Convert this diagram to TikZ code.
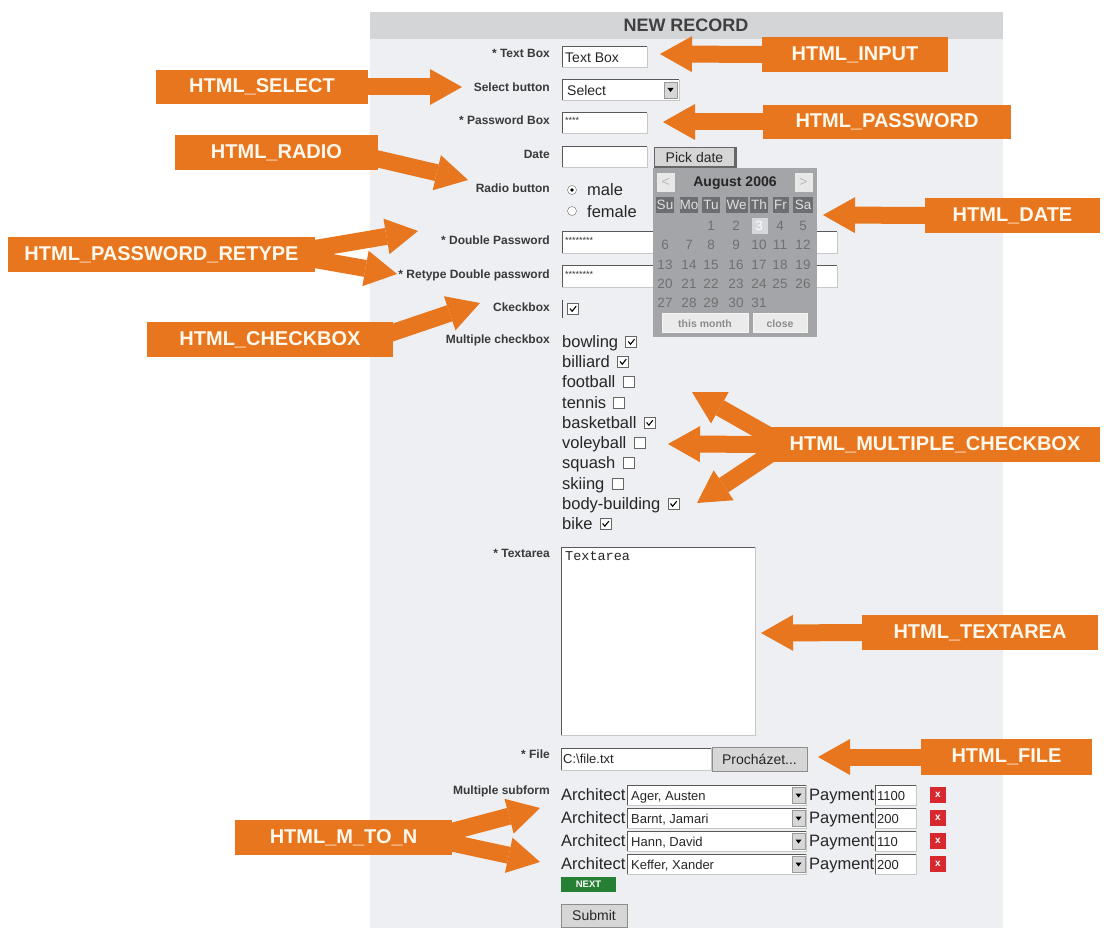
\documentclass[tikz,border=0pt]{standalone}
\usepackage{fontspec}
\setmainfont{Liberation Sans}
\newfontfamily\monofont{Liberation Mono}
\usetikzlibrary{arrows.meta,calc}
\definecolor{org}{RGB}{232,118,30}
\definecolor{panel}{RGB}{237,239,242}
\definecolor{hdr}{RGB}{212,213,215}
\definecolor{calbg}{RGB}{163,165,168}
\definecolor{caldk}{RGB}{108,110,113}
\definecolor{calnum}{RGB}{112,112,114}
\definecolor{calhi}{RGB}{214,216,219}
\definecolor{lbl}{RGB}{58,58,58}
\definecolor{btn}{RGB}{214,214,214}
\definecolor{xred}{RGB}{214,40,45}
\definecolor{nextg}{RGB}{38,128,52}
\definecolor{txtw}{RGB}{255,248,236}
\definecolor{fbd}{RGB}{95,95,95}
\newcommand\fld[4]{\fill[white] (#1,#2) rectangle (#3,#4);
  \draw[black!65,line width=1pt] (#1,#4)--(#1,#2)--(#3,#2);
  \draw[black!22,line width=0.8pt] (#3,#2)--(#3,#4)--(#1,#4);}
\tikzset{
 tag/.style={fill=org,text=txtw,font=\fontsize{20}{24}\selectfont\bfseries,inner sep=0pt,minimum height=35pt},
 arr/.style={draw=org,line width=17pt,-{Triangle[length=32pt,width=36pt,line width=0pt]}},
 flab/.style={anchor=east,inner sep=0pt,text=lbl,text height=8.6pt,text depth=0pt,font=\fontsize{12}{14}\selectfont\bfseries},
 big/.style={anchor=west,inner sep=0pt,text=black!85,text height=11.8pt,text depth=0pt,font=\fontsize{16.5}{18}\selectfont},
 mid/.style={anchor=west,inner sep=0pt,text=black!85,text height=10pt,text depth=0pt,font=\fontsize{14}{16}\selectfont},
 sm/.style={anchor=west,inner sep=0pt,text=black!85,text height=9.3pt,text depth=0pt,font=\fontsize{13}{15}\selectfont},
 tny/.style={anchor=west,inner sep=0pt,text=black!80,font=\fontsize{9}{10}\selectfont},
 cb/.style={draw=black!60,fill=white,line width=0.9pt,minimum size=11pt,inner sep=0pt,anchor=west},
 cbc/.style={cb,path picture={\draw[black,line width=1.1pt]
   ([xshift=-3pt,yshift=0.5pt]path picture bounding box.center) --
   ([xshift=-0.8pt,yshift=-2.2pt]path picture bounding box.center) --
   ([xshift=3.2pt,yshift=2.8pt]path picture bounding box.center);}},
 navb/.style={fill=white!75!calbg,text=white!45!gray,minimum width=18pt,minimum height=19pt,inner sep=0pt,font=\fontsize{14}{16}\selectfont},
 dayh/.style={fill=caldk,text=white!88!black,minimum height=16pt,inner sep=0pt,font=\fontsize{13.5}{15}\selectfont},
 dnum/.style={text=calnum,inner sep=0pt,font=\fontsize{13.5}{15}\selectfont},
 calbtn/.style={fill=white!78!calbg,draw=white!88!calbg,line width=1pt,text=black!45,minimum height=19pt,inner sep=0pt,font=\fontsize{10.5}{12}\selectfont\bfseries},
 btnn/.style={fill=btn,draw=black!45,line width=0.8pt,text=black!85,inner sep=0pt,font=\fontsize{14}{16}\selectfont},
 ddb/.style={fill=btn,draw=black!40,line width=0.6pt,minimum width=13pt,minimum height=16pt,inner sep=0pt},
 xb/.style={fill=xred,text=white,minimum width=16pt,minimum height=16pt,inner sep=0pt,font=\fontsize{10}{11}\selectfont\bfseries},
}
\begin{document}
\begin{tikzpicture}[x=1pt,y=-1pt]
\useasboundingbox (0,0) rectangle (1104,928);
% panel
\fill[panel] (370,12) rectangle (1003,928);
\fill[hdr] (370,12) rectangle (1003,39);
\node[font=\fontsize{18}{20}\selectfont\bfseries,text=black!75] (hd) at (686,25.5) {NEW RECORD};
% labels
\node[flab] (l1) at (550,53) {* Text Box};
\node[flab] (l2) at (550,87) {Select button};
\node[flab] (l3) at (550,120) {* Password Box};
\node[flab] (l4) at (550,154) {Date};
\node[flab] (l5) at (550,188) {Radio button};
\node[flab] (l6) at (550,240) {* Double Password};
\node[flab] (l7) at (550,274) {* Retype Double password};
\node[flab] (l8) at (550,307) {Ckeckbox};
\node[flab] (l9) at (550,339) {Multiple checkbox};
\node[flab] (l10) at (550,553) {* Textarea};
\node[flab] (l11) at (550,754) {* File};
\node[flab] (l12) at (550,790) {Multiple subform};
% text box
\fld{562}{47}{647}{67}
\node[mid] (v1) at (565,57.5) {Text Box};
% select
\fld{562}{80}{679}{100}
\node[mid] (v2) at (567,90.5) {Select};
\node[ddb] (v2b) at (670.5,90) {};
\fill[black] (667.5,88) -- (673.5,88) -- (670.5,92) -- cycle;
% password
\fld{562}{113}{647}{133}
\node[tny] (v3) at (565,120) {****};
% date
\fld{562}{147}{647}{167}
\fill[black!60] (654,147) rectangle (737,169);
\fill[btn] (655,148) rectangle (734,166);
\node[mid,anchor=center] (v4) at (694.5,157.5) {Pick date};
% radio
\draw[black!60,fill=white] (572,190) circle (4.5);
\fill[black] (572,190) circle (1.8);
\node[big] (v5) at (587,190) {male};
\draw[black!60,fill=white] (572,211) circle (4.5);
\node[big] (v6) at (587,212) {female};
% double passwords
\fld{562}{232}{837}{253}
\node[tny] (v6a) at (565,240) {********};
\fld{562}{266}{837}{287}
\node[tny] (v6b) at (565,274) {********};
% checkbox
\draw[black!70,line width=1.6pt] (562.5,300) -- (562.5,318);
\node[cbc] (v7) at (567,309) {};
% calendar
\fill[calbg] (653,168) rectangle (817,337);
\node[navb] (cprev) at (666,182.5) {<};
\node[font=\fontsize{14}{16}\selectfont\bfseries,text=black!85] (cmon) at (735,183) {August 2006};
\node[navb] (cnext) at (803.5,182.5) {>};
\foreach \n/\x/\w in {Su/665/18,Mo/689/18,Tu/711/18,We/736.5/22,Th/759/18,Fr/780.5/16,Sa/803/20}
  {\node[dayh,minimum width=\w pt] (h\n) at (\x,205) {\n};}
\fill[calhi] (752,218) rectangle (768,234);
\foreach \d in {1,...,31}{
  \pgfmathtruncatemacro{\idx}{\d+1}
  \pgfmathtruncatemacro{\col}{mod(\idx,7)}
  \pgfmathtruncatemacro{\row}{floor(\idx/7)}
  \pgfmathsetmacro{\cx}{{665,689,711,736,759,780,803}[\col]}
  \pgfmathsetmacro{\cy}{226+19.25*\row}
  \ifnum\d=3
    \node[dnum,text=white] (d\d) at (\cx,\cy) {\d};
  \else
    \node[dnum] (d\d) at (\cx,\cy) {\d};
  \fi
}
\node[calbtn,minimum width=86pt] (cb1) at (705,323.5) {this month};
\node[calbtn,minimum width=54pt] (cb2) at (780,323.5) {close};
% multiple checkbox
\foreach \t/\y/\c [count=\i] in {bowling/342/1,billiard/362/1,football/382/0,tennis/403/0,basketball/423/1,voleyball/443/0,squash/463/0,skiing/484/0,body-building/504/1,bike/524/1}{
  \node[big] (m\i) at (562,\y) {\t};
  \ifnum\c=1
    \node[cbc] (mc\i) at ([xshift=7pt]m\i.east) {};
  \else
    \node[cb] (mc\i) at ([xshift=7pt]m\i.east) {};
  \fi
}
% textarea
\fld{561}{547}{755}{735}
\node[anchor=north west,inner sep=0pt,text=black!85,font=\monofont\fontsize{13.5}{15}\selectfont] (v8) at (565,551) {Textarea};
% file
\fld{561}{748}{711}{770}
\node[sm] (v9) at (563,759) {C:\textbackslash file.txt};
\node[btnn,minimum width=95pt,minimum height=24pt] (v10) at (759.5,759) {Procházet...};
% subform
\foreach \i/\y/\n/\p in {1/795/{Ager, Austen}/1100,2/818/{Barnt, Jamari}/200,3/841/{Hann, David}/110,4/864/{Keffer, Xander}/200}{
  \node[big] (sa\i) at (561,\y) {Architect};
  \fld{627}{\y-10}{806}{\y+10}
  \node[sm] (sn\i) at (631,\y+0.5) {\n};
  \node[ddb] (sd\i) at (798.5,\y) {};
  \fill[black] ($(sd\i.center)+(-3,-1.5)$) -- ($(sd\i.center)+(3,-1.5)$) -- ($(sd\i.center)+(0,2.5)$) -- cycle;
  \node[big] (sp\i) at (809,\y) {Payment};
  \fld{875}{\y-10}{916}{\y+10}
  \node[sm] (sv\i) at (877,\y+0.5) {\p};
  \node[xb] (sx\i) at (938,\y) {x};
}
\node[fill=nextg,text=white,font=\bfseries\fontsize{9.5}{10}\selectfont,minimum width=55pt,minimum height=15pt,inner sep=0pt] (nx) at (588.5,884.5) {NEXT};
\node[btnn,minimum width=66pt,minimum height=23pt] (sb) at (594,915.5) {Submit};
% targets
\coordinate (pIn) at (660,54);
\coordinate (pPw) at (663,122);
\coordinate (pDate) at (823,215);
\coordinate (pSel) at (462,87);
\coordinate (pRad) at (468,180);
\coordinate (pRetA) at (418,231);
\coordinate (pRetB) at (397,274);
\coordinate (pChk) at (480,303);
\coordinate (pMA) at (692,392);
\coordinate (pMB) at (668,444);
\coordinate (pMC) at (697,503);
\coordinate (pTa) at (761,633);
\coordinate (pFile) at (818,757);
\coordinate (pMnA) at (540,808);
\coordinate (pMnB) at (540,862);
% tags
\node[tag,minimum width=186pt] (tIn) at (855,54.5) {HTML\_INPUT};
\node[tag,minimum width=248pt,minimum height=34pt] (tPw) at (887,122) {HTML\_PASSWORD};
\node[tag,minimum width=175pt] (tDate) at (1012.5,215.5) {HTML\_DATE};
\node[tag,minimum width=212pt,minimum height=34pt] (tSel) at (262,87) {HTML\_SELECT};
\node[tag,minimum width=203pt] (tRad) at (276.5,152.5) {HTML\_RADIO};
\node[tag,minimum width=307pt] (tRet) at (161.5,254.5) {HTML\_PASSWORD\_RETYPE};
\node[tag,minimum width=246pt] (tChk) at (270,339.5) {HTML\_CHECKBOX};
\node[tag,minimum width=330pt] (tMchk) at (935,444.5) {HTML\_MULTIPLE\_CHECKBOX};
\node[tag,minimum width=236pt] (tTa) at (980,632.5) {HTML\_TEXTAREA};
\node[tag,minimum width=171pt,minimum height=36pt] (tFile) at (1006.5,757) {HTML\_FILE};
\node[tag,minimum width=217pt] (tMn) at (343.5,837.5) {HTML\_M\_TO\_N};
% arrows
\draw[arr] ([xshift=15pt]tIn.west) -- (pIn);
\draw[arr] ([xshift=15pt]tPw.west) -- (pPw);
\draw[arr] ([xshift=15pt]tDate.west) -- (pDate);
\draw[arr] ([xshift=-15pt]tSel.east) -- (pSel);
\draw[arr] ([xshift=-15pt,yshift=-3pt]tRad.east) -- (pRad);
\draw[arr] ([xshift=-12pt,yshift=4pt]tRet.east) -- (pRetA);
\draw[arr] ([xshift=-12pt,yshift=-3pt]tRet.east) -- (pRetB);
\draw[arr] ([xshift=-15pt,yshift=2pt]tChk.east) -- (pChk);
\draw[arr] ([xshift=15pt]tMchk.west) -- (pMA);
\draw[arr] ([xshift=15pt]tMchk.west) -- (pMB);
\draw[arr] ([xshift=15pt]tMchk.west) -- (pMC);
\draw[arr] ([xshift=15pt]tTa.west) -- (pTa);
\draw[arr] ([xshift=15pt]tFile.west) -- (pFile);
\draw[arr] ([xshift=-12pt,yshift=3pt]tMn.east) -- (pMnA);
\draw[arr] ([xshift=-12pt,yshift=-3pt]tMn.east) -- (pMnB);
% redraw tags on top of arrow roots
\foreach \t in {tIn,tPw,tDate,tSel,tRad,tRet,tChk,tMchk,tTa,tFile,tMn}{
  \fill[org] (\t.north west) rectangle (\t.south east);
}
\node[tag,fill=none] (uIn) at (tIn) {HTML\_INPUT};
\node[tag,fill=none] (uPw) at (tPw) {HTML\_PASSWORD};
\node[tag,fill=none] (uDate) at (tDate) {HTML\_DATE};
\node[tag,fill=none] (uSel) at (tSel) {HTML\_SELECT};
\node[tag,fill=none] (uRad) at (tRad) {HTML\_RADIO};
\node[tag,fill=none] (uRet) at (tRet) {HTML\_PASSWORD\_RETYPE};
\node[tag,fill=none] (uChk) at (tChk) {HTML\_CHECKBOX};
\node[tag,fill=none] (uMchk) at (tMchk) {HTML\_MULTIPLE\_CHECKBOX};
\node[tag,fill=none] (uTa) at (tTa) {HTML\_TEXTAREA};
\node[tag,fill=none] (uFile) at (tFile) {HTML\_FILE};
\node[tag,fill=none] (uMn) at (tMn) {HTML\_M\_TO\_N};
\end{tikzpicture}
\end{document}
